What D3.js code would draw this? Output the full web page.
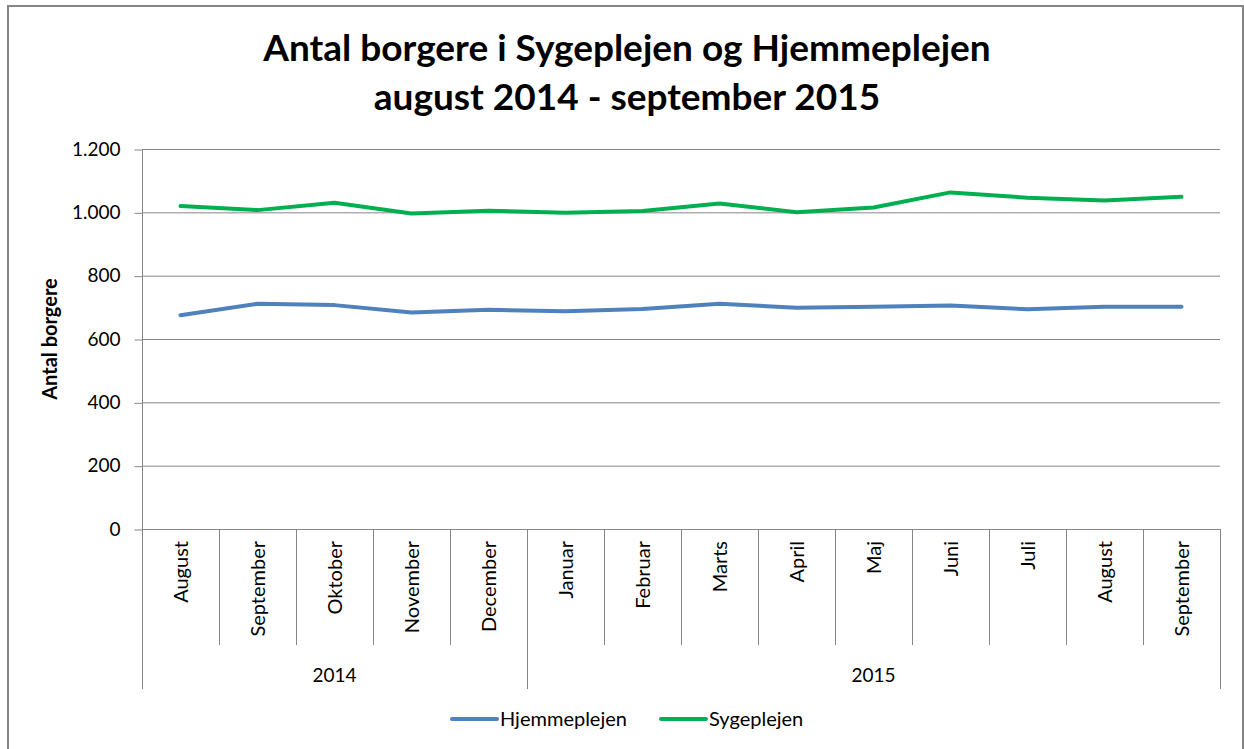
<!DOCTYPE html>
<html>
<head>
<meta charset="utf-8">
<script src="https://cdn.jsdelivr.net/npm/d3@7"></script>
<style>
  body { margin: 0; background: #fff; }
  svg text { font-family: Lato, "Open Sans", sans-serif; fill: #000; }
</style>
</head>
<body>
<svg id="chart" width="1244" height="749"></svg>
<script>
// months on the x axis, grouped by year
const months = ["August", "September", "Oktober", "November", "December",
  "Januar", "Februar", "Marts", "April", "Maj", "Juni", "Juli", "August", "September"];
const years = [
  { label: "2014", from: 0, to: 5 },
  { label: "2015", from: 5, to: 14 }
];
const hjemmeplejen = [675, 711, 707, 684, 692, 688, 695, 711, 699, 702, 706, 694, 702, 702];
const sygeplejen = [1020, 1007, 1030, 996, 1005, 999, 1004, 1028, 1000, 1015, 1063, 1046, 1037, 1049];
const yTicks = [0, 200, 400, 600, 800, 1000, 1200];

const series = [
  { name: "Hjemmeplejen", values: hjemmeplejen, color: "#4F81BD" },
  { name: "Sygeplejen", values: sygeplejen, color: "#00B050" }
];

const svg = d3.select("#chart");
const plotLeft = 142, plotRight = 1220, plotTop = 149, plotBottom = 529;

// outer border
svg.append("rect")
  .attr("x", 8).attr("y", 6)
  .attr("width", 1235).attr("height", 750)
  .attr("fill", "none")
  .attr("stroke", "#868686")
  .attr("stroke-width", 2);

const x = d3.scaleBand().domain(d3.range(months.length)).range([plotLeft, plotRight]);
const y = d3.scaleLinear().domain([0, 1200]).range([plotBottom, plotTop]);

// title
const title = svg.append("text")
  .attr("text-anchor", "middle")
  .style("font-weight", "bold")
  .style("font-size", "37px");
title.append("tspan").attr("x", 627).attr("y", 61).text("Antal borgere i Sygeplejen og Hjemmeplejen");
title.append("tspan").attr("x", 627).attr("y", 110).text("august 2014 - september 2015");

// gridlines
svg.append("g")
  .selectAll("line")
  .data(yTicks.filter(d => d > 0))
  .enter().append("line")
  .attr("x1", plotLeft).attr("x2", plotRight)
  .attr("y1", d => y(d) + 0.5).attr("y2", d => y(d) + 0.5)
  .attr("stroke", "#868686");

// y axis
const yAxis = svg.append("g")
  .attr("transform", `translate(${plotLeft + 0.5},0)`)
  .call(d3.axisLeft(y).tickValues(yTicks).tickSize(8).tickPadding(14)
    .tickFormat(d => d3.format(",")(d).replace(",", ".")));
yAxis.select(".domain").attr("stroke", "#868686").attr("d", `M0,${plotTop}V${plotBottom}`);
yAxis.selectAll(".tick line").attr("stroke", "#868686").attr("transform", "translate(0,0.5)");
yAxis.selectAll(".tick text")
  .style("font-size", "19px")
  .style("font-family", "Lato, 'Open Sans', sans-serif")
  .attr("fill", "#000");

// y label
svg.append("text")
  .attr("transform", "translate(57,339) rotate(-90)")
  .attr("text-anchor", "middle")
  .style("font-weight", "bold")
  .style("font-size", "20px")
  .text("Antal borgere");

// x axis: baseline, month dividers, year dividers
const axisG = svg.append("g").attr("stroke", "#868686").attr("fill", "none");
axisG.append("line")
  .attr("x1", plotLeft).attr("x2", plotRight)
  .attr("y1", plotBottom + 0.5).attr("y2", plotBottom + 0.5);

const yearEdges = [0].concat(years.map(d => d.to));
axisG.selectAll(".mdiv")
  .data(d3.range(1, months.length).filter(i => !yearEdges.includes(i)))
  .enter().append("line")
  .attr("x1", i => Math.round(x(i)) + 0.5).attr("x2", i => Math.round(x(i)) + 0.5)
  .attr("y1", plotBottom).attr("y2", 645);

axisG.selectAll(".ydiv")
  .data(yearEdges)
  .enter().append("line")
  .attr("x1", i => Math.round(i < months.length ? x(i) : plotRight) + 0.5)
  .attr("x2", i => Math.round(i < months.length ? x(i) : plotRight) + 0.5)
  .attr("y1", plotBottom).attr("y2", 689);

// month labels
svg.append("g")
  .selectAll("text")
  .data(months)
  .enter().append("text")
  .attr("transform", (d, i) => `translate(${x(i) + x.bandwidth() / 2 + 7},541) rotate(-90)`)
  .attr("text-anchor", "end")
  .style("font-size", "20px")
  .text(d => d);

// year labels
svg.append("g")
  .selectAll("text")
  .data(years)
  .enter().append("text")
  .attr("x", d => (x(d.from) + (d.to < months.length ? x(d.to) : plotRight)) / 2)
  .attr("y", 682)
  .attr("text-anchor", "middle")
  .style("font-size", "19px")
  .text(d => d.label);

// lines
const line = d3.line()
  .x((d, i) => x(i) + x.bandwidth() / 2)
  .y(d => y(d));

svg.append("g")
  .selectAll("path")
  .data(series)
  .enter().append("path")
  .attr("d", d => line(d.values))
  .attr("fill", "none")
  .attr("stroke", d => d.color)
  .attr("stroke-width", 4)
  .attr("stroke-linejoin", "round")
  .attr("stroke-linecap", "round");

// legend
const legendX = [452, 661];
const legend = svg.append("g")
  .selectAll("g")
  .data(series)
  .enter().append("g")
  .attr("transform", (d, i) => `translate(${legendX[i]},719)`);
legend.append("line")
  .attr("x1", 0).attr("x2", 45)
  .attr("stroke", d => d.color)
  .attr("stroke-width", 4)
  .attr("stroke-linecap", "round");
legend.append("text")
  .attr("x", 48).attr("y", 7)
  .style("font-size", "20px")
  .attr("fill", "#1a1a1a")
  .text(d => d.name);
</script>
</body>
</html>
